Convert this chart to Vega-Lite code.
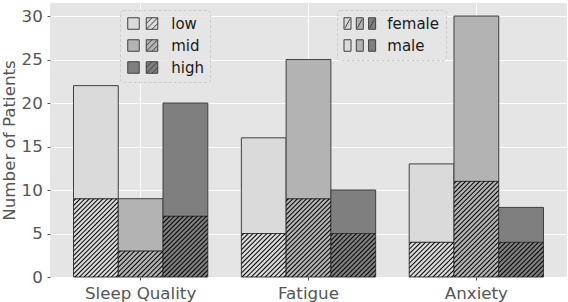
{
  "$schema": "https://vega.github.io/schema/vega-lite/v6.json",
  "width": 517,
  "height": 274,
  "autosize": {"type": "none"},
  "padding": {"left": 50, "top": 3, "right": 1, "bottom": 25},
  "background": "#ffffff",
  "view": {"fill": "#E5E5E5", "stroke": null},
  "config": {
    "font": "DejaVu Sans",
    "axis": {
      "domain": false,
      "labelFont": "DejaVu Sans",
      "titleFont": "DejaVu Sans",
      "labelFontSize": 16.7,
      "titleFontSize": 16.7,
      "titleFontWeight": "normal",
      "labelColor": "#555555",
      "titleColor": "#555555",
      "tickColor": "#555555",
      "tickSize": 3,
      "gridColor": "#ffffff",
      "gridWidth": 1
    },
    "legend": {
      "labelFont": "DejaVu Sans",
      "labelFontSize": 15,
      "labelColor": "#1a1a1a",
      "labelLimit": 0,
      "symbolSize": 132.25,
      "padding": 6,
      "rowPadding": 5,
      "fillColor": "rgba(229,229,229,0.8)",
      "strokeColor": "#cccccc",
      "strokeDash": [3, 2],
      "cornerRadius": 3,
      "symbolStrokeWidth": 1,
      "symbolStrokeColor": "#404040"
    }
  },
  "data": {
    "values": [
      {"category": "Sleep Quality", "level": "low", "sex": "female", "count": 9},
      {"category": "Sleep Quality", "level": "low", "sex": "male", "count": 13},
      {"category": "Sleep Quality", "level": "mid", "sex": "female", "count": 3},
      {"category": "Sleep Quality", "level": "mid", "sex": "male", "count": 6},
      {"category": "Sleep Quality", "level": "high", "sex": "female", "count": 7},
      {"category": "Sleep Quality", "level": "high", "sex": "male", "count": 13},
      {"category": "Fatigue", "level": "low", "sex": "female", "count": 5},
      {"category": "Fatigue", "level": "low", "sex": "male", "count": 11},
      {"category": "Fatigue", "level": "mid", "sex": "female", "count": 9},
      {"category": "Fatigue", "level": "mid", "sex": "male", "count": 16},
      {"category": "Fatigue", "level": "high", "sex": "female", "count": 5},
      {"category": "Fatigue", "level": "high", "sex": "male", "count": 5},
      {"category": "Anxiety", "level": "low", "sex": "female", "count": 4},
      {"category": "Anxiety", "level": "low", "sex": "male", "count": 9},
      {"category": "Anxiety", "level": "mid", "sex": "female", "count": 11},
      {"category": "Anxiety", "level": "mid", "sex": "male", "count": 19},
      {"category": "Anxiety", "level": "high", "sex": "female", "count": 4},
      {"category": "Anxiety", "level": "high", "sex": "male", "count": 4}
    ]
  },
  "encoding": {
    "x": {
      "field": "category", "type": "nominal",
      "scale": {"domain": ["Sleep Quality", "Fatigue", "Anxiety"], "paddingInner": 0.2, "paddingOuter": 0.14},
      "axis": {"title": null, "labelAngle": 0, "grid": true, "bandPosition": 0.5, "labelPadding": 5}
    },
    "xOffset": {
      "field": "level", "type": "nominal",
      "scale": {"domain": ["low", "mid", "high"], "paddingInner": 0, "paddingOuter": 0}
    },
    "y": {
      "field": "count", "type": "quantitative", "stack": "zero",
      "scale": {"domain": [0, 31.5], "nice": false},
      "axis": {"title": "Number of Patients", "values": [0, 5, 10, 15, 20, 25, 30], "grid": true, "labelPadding": 4.7, "titlePadding": 3}
    }
  },
  "layer": [
    {
      "mark": {"type": "bar", "stroke": "#404040", "strokeWidth": 1},
      "encoding": {
        "fill": {
          "field": "level", "type": "nominal",
          "scale": {"domain": ["low", "mid", "high"], "range": ["#DADADA", "#B3B3B3", "#7F7F7F"]},
          "legend": {
            "title": null, "orient": "none", "legendX": 70, "legendY": 7,
            "symbolType": "M-2.61,-1H-0.61V1H-2.61Z M0.61,-1H2.61V1H0.61Z M0.61,1L2.61,-1 M0.61,0L1.61,-1 M1.61,1L2.61,0",
            "symbolOffset": 9.25, "labelOffset": 21
          }
        },
        "opacity": {
          "field": "sex", "type": "ordinal",
          "scale": {"domain": ["female", "male"], "range": [1, 1]},
          "legend": {
            "title": null, "orient": "none", "legendX": 287, "legendY": 7,
            "symbolOffset": 9.3, "labelOffset": 20,
            "symbolType": {"expr": "datum.value === 'female' ? 'M-2.75,-1H-1.53V1H-2.75Z M-2.55,0.75L-1.73,-0.75 M-0.61,-1H0.61V1H-0.61Z M-0.41,0.75L0.41,-0.75 M1.53,-1H2.75V1H1.53Z M1.73,0.75L2.55,-0.75' : 'M-2.75,-1H-1.53V1H-2.75Z M-0.61,-1H0.61V1H-0.61Z M1.53,-1H2.75V1H1.53Z'"},
            "symbolFillColor": {"expr": "{gradient: 'linear', x1: 0, y1: 0, x2: 1, y2: 0, stops: [{offset: 0, color: '#DADADA'}, {offset: 0.3, color: '#DADADA'}, {offset: 0.3, color: '#B3B3B3'}, {offset: 0.7, color: '#B3B3B3'}, {offset: 0.7, color: '#7F7F7F'}, {offset: 1, color: '#7F7F7F'}]}"},
            "symbolStrokeColor": "#404040",
            "symbolOpacity": 1
          }
        },
        "order": {"field": "sex", "sort": "ascending"}
      }
    },
    {
      "transform": [{"filter": "datum.sex === 'female' && datum.count === 3"}],
      "mark": {"type": "bar", "strokeWidth": 0, "fill": {"gradient": "linear", "x1": 0, "y1": 0, "x2": 1.1814, "y2": 0.6888, "stops": [
        {"offset":0.0135,"color":"rgba(0,0,0,0)"},{"offset":0.0333,"color":"#000"},{"offset":0.0531,"color":"rgba(0,0,0,0)"},
        {"offset":0.0802,"color":"rgba(0,0,0,0)"},{"offset":0.1,"color":"#000"},{"offset":0.1198,"color":"rgba(0,0,0,0)"},
        {"offset":0.1469,"color":"rgba(0,0,0,0)"},{"offset":0.1667,"color":"#000"},{"offset":0.1865,"color":"rgba(0,0,0,0)"},
        {"offset":0.2135,"color":"rgba(0,0,0,0)"},{"offset":0.2333,"color":"#000"},{"offset":0.2531,"color":"rgba(0,0,0,0)"},
        {"offset":0.2802,"color":"rgba(0,0,0,0)"},{"offset":0.3,"color":"#000"},{"offset":0.3198,"color":"rgba(0,0,0,0)"},
        {"offset":0.3469,"color":"rgba(0,0,0,0)"},{"offset":0.3667,"color":"#000"},{"offset":0.3865,"color":"rgba(0,0,0,0)"},
        {"offset":0.4135,"color":"rgba(0,0,0,0)"},{"offset":0.4333,"color":"#000"},{"offset":0.4531,"color":"rgba(0,0,0,0)"},
        {"offset":0.4802,"color":"rgba(0,0,0,0)"},{"offset":0.5,"color":"#000"},{"offset":0.5198,"color":"rgba(0,0,0,0)"},
        {"offset":0.5469,"color":"rgba(0,0,0,0)"},{"offset":0.5667,"color":"#000"},{"offset":0.5865,"color":"rgba(0,0,0,0)"},
        {"offset":0.6135,"color":"rgba(0,0,0,0)"},{"offset":0.6333,"color":"#000"},{"offset":0.6531,"color":"rgba(0,0,0,0)"},
        {"offset":0.6802,"color":"rgba(0,0,0,0)"},{"offset":0.7,"color":"#000"},{"offset":0.7198,"color":"rgba(0,0,0,0)"},
        {"offset":0.7469,"color":"rgba(0,0,0,0)"},{"offset":0.7667,"color":"#000"},{"offset":0.7865,"color":"rgba(0,0,0,0)"},
        {"offset":0.8135,"color":"rgba(0,0,0,0)"},{"offset":0.8333,"color":"#000"},{"offset":0.8531,"color":"rgba(0,0,0,0)"},
        {"offset":0.8802,"color":"rgba(0,0,0,0)"},{"offset":0.9,"color":"#000"},{"offset":0.9198,"color":"rgba(0,0,0,0)"},
        {"offset":0.9469,"color":"rgba(0,0,0,0)"},{"offset":0.9667,"color":"#000"},{"offset":0.9865,"color":"rgba(0,0,0,0)"}
      ]}}
    },
    {
      "transform": [{"filter": "datum.sex === 'female' && datum.count === 4"}],
      "mark": {"type": "bar", "strokeWidth": 0, "fill": {"gradient": "linear", "x1": 0, "y1": 0, "x2": 1.1079, "y2": 0.8612, "stops": [
        {"offset":0.0118,"color":"rgba(0,0,0,0)"},{"offset":0.0294,"color":"#000"},{"offset":0.0470,"color":"rgba(0,0,0,0)"},
        {"offset":0.0706,"color":"rgba(0,0,0,0)"},{"offset":0.0882,"color":"#000"},{"offset":0.1058,"color":"rgba(0,0,0,0)"},
        {"offset":0.1295,"color":"rgba(0,0,0,0)"},{"offset":0.1471,"color":"#000"},{"offset":0.1647,"color":"rgba(0,0,0,0)"},
        {"offset":0.1883,"color":"rgba(0,0,0,0)"},{"offset":0.2059,"color":"#000"},{"offset":0.2235,"color":"rgba(0,0,0,0)"},
        {"offset":0.2471,"color":"rgba(0,0,0,0)"},{"offset":0.2647,"color":"#000"},{"offset":0.2823,"color":"rgba(0,0,0,0)"},
        {"offset":0.3059,"color":"rgba(0,0,0,0)"},{"offset":0.3235,"color":"#000"},{"offset":0.3411,"color":"rgba(0,0,0,0)"},
        {"offset":0.3648,"color":"rgba(0,0,0,0)"},{"offset":0.3824,"color":"#000"},{"offset":0.4000,"color":"rgba(0,0,0,0)"},
        {"offset":0.4236,"color":"rgba(0,0,0,0)"},{"offset":0.4412,"color":"#000"},{"offset":0.4588,"color":"rgba(0,0,0,0)"},
        {"offset":0.4824,"color":"rgba(0,0,0,0)"},{"offset":0.5,"color":"#000"},{"offset":0.5176,"color":"rgba(0,0,0,0)"},
        {"offset":0.5412,"color":"rgba(0,0,0,0)"},{"offset":0.5588,"color":"#000"},{"offset":0.5764,"color":"rgba(0,0,0,0)"},
        {"offset":0.6000,"color":"rgba(0,0,0,0)"},{"offset":0.6176,"color":"#000"},{"offset":0.6352,"color":"rgba(0,0,0,0)"},
        {"offset":0.6589,"color":"rgba(0,0,0,0)"},{"offset":0.6765,"color":"#000"},{"offset":0.6941,"color":"rgba(0,0,0,0)"},
        {"offset":0.7177,"color":"rgba(0,0,0,0)"},{"offset":0.7353,"color":"#000"},{"offset":0.7529,"color":"rgba(0,0,0,0)"},
        {"offset":0.7765,"color":"rgba(0,0,0,0)"},{"offset":0.7941,"color":"#000"},{"offset":0.8117,"color":"rgba(0,0,0,0)"},
        {"offset":0.8353,"color":"rgba(0,0,0,0)"},{"offset":0.8529,"color":"#000"},{"offset":0.8705,"color":"rgba(0,0,0,0)"},
        {"offset":0.8942,"color":"rgba(0,0,0,0)"},{"offset":0.9118,"color":"#000"},{"offset":0.9294,"color":"rgba(0,0,0,0)"},
        {"offset":0.9530,"color":"rgba(0,0,0,0)"},{"offset":0.9706,"color":"#000"},{"offset":0.9882,"color":"rgba(0,0,0,0)"}
      ]}}
    },
    {
      "transform": [{"filter": "datum.sex === 'female' && datum.count === 5"}],
      "mark": {"type": "bar", "strokeWidth": 0, "fill": {"gradient": "linear", "x1": 0, "y1": 0, "x2": 1.0141, "y2": 0.9854, "stops": [
        {"offset":0.0104,"color":"rgba(0,0,0,0)"},{"offset":0.0263,"color":"#000"},{"offset":0.0422,"color":"rgba(0,0,0,0)"},
        {"offset":0.0630,"color":"rgba(0,0,0,0)"},{"offset":0.0789,"color":"#000"},{"offset":0.0948,"color":"rgba(0,0,0,0)"},
        {"offset":0.1157,"color":"rgba(0,0,0,0)"},{"offset":0.1316,"color":"#000"},{"offset":0.1475,"color":"rgba(0,0,0,0)"},
        {"offset":0.1683,"color":"rgba(0,0,0,0)"},{"offset":0.1842,"color":"#000"},{"offset":0.2001,"color":"rgba(0,0,0,0)"},
        {"offset":0.2209,"color":"rgba(0,0,0,0)"},{"offset":0.2368,"color":"#000"},{"offset":0.2527,"color":"rgba(0,0,0,0)"},
        {"offset":0.2736,"color":"rgba(0,0,0,0)"},{"offset":0.2895,"color":"#000"},{"offset":0.3054,"color":"rgba(0,0,0,0)"},
        {"offset":0.3262,"color":"rgba(0,0,0,0)"},{"offset":0.3421,"color":"#000"},{"offset":0.3580,"color":"rgba(0,0,0,0)"},
        {"offset":0.3788,"color":"rgba(0,0,0,0)"},{"offset":0.3947,"color":"#000"},{"offset":0.4106,"color":"rgba(0,0,0,0)"},
        {"offset":0.4315,"color":"rgba(0,0,0,0)"},{"offset":0.4474,"color":"#000"},{"offset":0.4633,"color":"rgba(0,0,0,0)"},
        {"offset":0.4841,"color":"rgba(0,0,0,0)"},{"offset":0.5,"color":"#000"},{"offset":0.5159,"color":"rgba(0,0,0,0)"},
        {"offset":0.5367,"color":"rgba(0,0,0,0)"},{"offset":0.5526,"color":"#000"},{"offset":0.5685,"color":"rgba(0,0,0,0)"},
        {"offset":0.5894,"color":"rgba(0,0,0,0)"},{"offset":0.6053,"color":"#000"},{"offset":0.6212,"color":"rgba(0,0,0,0)"},
        {"offset":0.6420,"color":"rgba(0,0,0,0)"},{"offset":0.6579,"color":"#000"},{"offset":0.6738,"color":"rgba(0,0,0,0)"},
        {"offset":0.6946,"color":"rgba(0,0,0,0)"},{"offset":0.7105,"color":"#000"},{"offset":0.7264,"color":"rgba(0,0,0,0)"},
        {"offset":0.7473,"color":"rgba(0,0,0,0)"},{"offset":0.7632,"color":"#000"},{"offset":0.7791,"color":"rgba(0,0,0,0)"},
        {"offset":0.7999,"color":"rgba(0,0,0,0)"},{"offset":0.8158,"color":"#000"},{"offset":0.8317,"color":"rgba(0,0,0,0)"},
        {"offset":0.8525,"color":"rgba(0,0,0,0)"},{"offset":0.8684,"color":"#000"},{"offset":0.8843,"color":"rgba(0,0,0,0)"},
        {"offset":0.9052,"color":"rgba(0,0,0,0)"},{"offset":0.9211,"color":"#000"},{"offset":0.9370,"color":"rgba(0,0,0,0)"},
        {"offset":0.9578,"color":"rgba(0,0,0,0)"},{"offset":0.9737,"color":"#000"},{"offset":0.9896,"color":"rgba(0,0,0,0)"}
      ]}}
    },
    {
      "transform": [{"filter": "datum.sex === 'female' && datum.count === 7"}],
      "mark": {"type": "bar", "strokeWidth": 0, "fill": {"gradient": "linear", "x1": 0, "y1": 0, "x2": 0.8280, "y2": 1.1264, "stops": [
        {"offset":0.0084,"color":"rgba(0,0,0,0)"},{"offset":0.0217,"color":"#000"},{"offset":0.0350,"color":"rgba(0,0,0,0)"},
        {"offset":0.0519,"color":"rgba(0,0,0,0)"},{"offset":0.0652,"color":"#000"},{"offset":0.0785,"color":"rgba(0,0,0,0)"},
        {"offset":0.0954,"color":"rgba(0,0,0,0)"},{"offset":0.1087,"color":"#000"},{"offset":0.1220,"color":"rgba(0,0,0,0)"},
        {"offset":0.1389,"color":"rgba(0,0,0,0)"},{"offset":0.1522,"color":"#000"},{"offset":0.1655,"color":"rgba(0,0,0,0)"},
        {"offset":0.1824,"color":"rgba(0,0,0,0)"},{"offset":0.1957,"color":"#000"},{"offset":0.2090,"color":"rgba(0,0,0,0)"},
        {"offset":0.2258,"color":"rgba(0,0,0,0)"},{"offset":0.2391,"color":"#000"},{"offset":0.2524,"color":"rgba(0,0,0,0)"},
        {"offset":0.2693,"color":"rgba(0,0,0,0)"},{"offset":0.2826,"color":"#000"},{"offset":0.2959,"color":"rgba(0,0,0,0)"},
        {"offset":0.3128,"color":"rgba(0,0,0,0)"},{"offset":0.3261,"color":"#000"},{"offset":0.3394,"color":"rgba(0,0,0,0)"},
        {"offset":0.3563,"color":"rgba(0,0,0,0)"},{"offset":0.3696,"color":"#000"},{"offset":0.3829,"color":"rgba(0,0,0,0)"},
        {"offset":0.3997,"color":"rgba(0,0,0,0)"},{"offset":0.4130,"color":"#000"},{"offset":0.4263,"color":"rgba(0,0,0,0)"},
        {"offset":0.4432,"color":"rgba(0,0,0,0)"},{"offset":0.4565,"color":"#000"},{"offset":0.4698,"color":"rgba(0,0,0,0)"},
        {"offset":0.4867,"color":"rgba(0,0,0,0)"},{"offset":0.5,"color":"#000"},{"offset":0.5133,"color":"rgba(0,0,0,0)"},
        {"offset":0.5302,"color":"rgba(0,0,0,0)"},{"offset":0.5435,"color":"#000"},{"offset":0.5568,"color":"rgba(0,0,0,0)"},
        {"offset":0.5737,"color":"rgba(0,0,0,0)"},{"offset":0.5870,"color":"#000"},{"offset":0.6003,"color":"rgba(0,0,0,0)"},
        {"offset":0.6171,"color":"rgba(0,0,0,0)"},{"offset":0.6304,"color":"#000"},{"offset":0.6437,"color":"rgba(0,0,0,0)"},
        {"offset":0.6606,"color":"rgba(0,0,0,0)"},{"offset":0.6739,"color":"#000"},{"offset":0.6872,"color":"rgba(0,0,0,0)"},
        {"offset":0.7041,"color":"rgba(0,0,0,0)"},{"offset":0.7174,"color":"#000"},{"offset":0.7307,"color":"rgba(0,0,0,0)"},
        {"offset":0.7476,"color":"rgba(0,0,0,0)"},{"offset":0.7609,"color":"#000"},{"offset":0.7742,"color":"rgba(0,0,0,0)"},
        {"offset":0.7910,"color":"rgba(0,0,0,0)"},{"offset":0.8043,"color":"#000"},{"offset":0.8176,"color":"rgba(0,0,0,0)"},
        {"offset":0.8345,"color":"rgba(0,0,0,0)"},{"offset":0.8478,"color":"#000"},{"offset":0.8611,"color":"rgba(0,0,0,0)"},
        {"offset":0.8780,"color":"rgba(0,0,0,0)"},{"offset":0.8913,"color":"#000"},{"offset":0.9046,"color":"rgba(0,0,0,0)"},
        {"offset":0.9215,"color":"rgba(0,0,0,0)"},{"offset":0.9348,"color":"#000"},{"offset":0.9481,"color":"rgba(0,0,0,0)"},
        {"offset":0.9650,"color":"rgba(0,0,0,0)"},{"offset":0.9783,"color":"#000"},{"offset":0.9916,"color":"rgba(0,0,0,0)"}
      ]}}
    },
    {
      "transform": [{"filter": "datum.sex === 'female' && datum.count === 9"}],
      "mark": {"type": "bar", "strokeWidth": 0, "fill": {"gradient": "linear", "x1": 0, "y1": 0, "x2": 0.6773, "y2": 1.1845, "stops": [
        {"offset":0.0071,"color":"rgba(0,0,0,0)"},{"offset":0.0185,"color":"#000"},{"offset":0.0299,"color":"rgba(0,0,0,0)"},
        {"offset":0.0442,"color":"rgba(0,0,0,0)"},{"offset":0.0556,"color":"#000"},{"offset":0.0670,"color":"rgba(0,0,0,0)"},
        {"offset":0.0812,"color":"rgba(0,0,0,0)"},{"offset":0.0926,"color":"#000"},{"offset":0.1040,"color":"rgba(0,0,0,0)"},
        {"offset":0.1182,"color":"rgba(0,0,0,0)"},{"offset":0.1296,"color":"#000"},{"offset":0.1410,"color":"rgba(0,0,0,0)"},
        {"offset":0.1553,"color":"rgba(0,0,0,0)"},{"offset":0.1667,"color":"#000"},{"offset":0.1781,"color":"rgba(0,0,0,0)"},
        {"offset":0.1923,"color":"rgba(0,0,0,0)"},{"offset":0.2037,"color":"#000"},{"offset":0.2151,"color":"rgba(0,0,0,0)"},
        {"offset":0.2293,"color":"rgba(0,0,0,0)"},{"offset":0.2407,"color":"#000"},{"offset":0.2521,"color":"rgba(0,0,0,0)"},
        {"offset":0.2664,"color":"rgba(0,0,0,0)"},{"offset":0.2778,"color":"#000"},{"offset":0.2892,"color":"rgba(0,0,0,0)"},
        {"offset":0.3034,"color":"rgba(0,0,0,0)"},{"offset":0.3148,"color":"#000"},{"offset":0.3262,"color":"rgba(0,0,0,0)"},
        {"offset":0.3405,"color":"rgba(0,0,0,0)"},{"offset":0.3519,"color":"#000"},{"offset":0.3633,"color":"rgba(0,0,0,0)"},
        {"offset":0.3775,"color":"rgba(0,0,0,0)"},{"offset":0.3889,"color":"#000"},{"offset":0.4003,"color":"rgba(0,0,0,0)"},
        {"offset":0.4145,"color":"rgba(0,0,0,0)"},{"offset":0.4259,"color":"#000"},{"offset":0.4373,"color":"rgba(0,0,0,0)"},
        {"offset":0.4516,"color":"rgba(0,0,0,0)"},{"offset":0.4630,"color":"#000"},{"offset":0.4744,"color":"rgba(0,0,0,0)"},
        {"offset":0.4886,"color":"rgba(0,0,0,0)"},{"offset":0.5,"color":"#000"},{"offset":0.5114,"color":"rgba(0,0,0,0)"},
        {"offset":0.5256,"color":"rgba(0,0,0,0)"},{"offset":0.5370,"color":"#000"},{"offset":0.5484,"color":"rgba(0,0,0,0)"},
        {"offset":0.5627,"color":"rgba(0,0,0,0)"},{"offset":0.5741,"color":"#000"},{"offset":0.5855,"color":"rgba(0,0,0,0)"},
        {"offset":0.5997,"color":"rgba(0,0,0,0)"},{"offset":0.6111,"color":"#000"},{"offset":0.6225,"color":"rgba(0,0,0,0)"},
        {"offset":0.6367,"color":"rgba(0,0,0,0)"},{"offset":0.6481,"color":"#000"},{"offset":0.6595,"color":"rgba(0,0,0,0)"},
        {"offset":0.6738,"color":"rgba(0,0,0,0)"},{"offset":0.6852,"color":"#000"},{"offset":0.6966,"color":"rgba(0,0,0,0)"},
        {"offset":0.7108,"color":"rgba(0,0,0,0)"},{"offset":0.7222,"color":"#000"},{"offset":0.7336,"color":"rgba(0,0,0,0)"},
        {"offset":0.7479,"color":"rgba(0,0,0,0)"},{"offset":0.7593,"color":"#000"},{"offset":0.7707,"color":"rgba(0,0,0,0)"},
        {"offset":0.7849,"color":"rgba(0,0,0,0)"},{"offset":0.7963,"color":"#000"},{"offset":0.8077,"color":"rgba(0,0,0,0)"},
        {"offset":0.8219,"color":"rgba(0,0,0,0)"},{"offset":0.8333,"color":"#000"},{"offset":0.8447,"color":"rgba(0,0,0,0)"},
        {"offset":0.8590,"color":"rgba(0,0,0,0)"},{"offset":0.8704,"color":"#000"},{"offset":0.8818,"color":"rgba(0,0,0,0)"},
        {"offset":0.8960,"color":"rgba(0,0,0,0)"},{"offset":0.9074,"color":"#000"},{"offset":0.9188,"color":"rgba(0,0,0,0)"},
        {"offset":0.9330,"color":"rgba(0,0,0,0)"},{"offset":0.9444,"color":"#000"},{"offset":0.9558,"color":"rgba(0,0,0,0)"},
        {"offset":0.9701,"color":"rgba(0,0,0,0)"},{"offset":0.9815,"color":"#000"},{"offset":0.9929,"color":"rgba(0,0,0,0)"}
      ]}}
    },
    {
      "transform": [{"filter": "datum.sex === 'female' && datum.count === 11"}],
      "mark": {"type": "bar", "strokeWidth": 0, "fill": {"gradient": "linear", "x1": 0, "y1": 0, "x2": 0.5634, "y2": 1.2043, "stops": [
        {"offset":0.0067,"color":"rgba(0,0,0,0)"},{"offset":0.0167,"color":"#000"},{"offset":0.0267,"color":"rgba(0,0,0,0)"},
        {"offset":0.0400,"color":"rgba(0,0,0,0)"},{"offset":0.05,"color":"#000"},{"offset":0.0600,"color":"rgba(0,0,0,0)"},
        {"offset":0.0733,"color":"rgba(0,0,0,0)"},{"offset":0.0833,"color":"#000"},{"offset":0.0933,"color":"rgba(0,0,0,0)"},
        {"offset":0.1067,"color":"rgba(0,0,0,0)"},{"offset":0.1167,"color":"#000"},{"offset":0.1267,"color":"rgba(0,0,0,0)"},
        {"offset":0.1400,"color":"rgba(0,0,0,0)"},{"offset":0.15,"color":"#000"},{"offset":0.1600,"color":"rgba(0,0,0,0)"},
        {"offset":0.1733,"color":"rgba(0,0,0,0)"},{"offset":0.1833,"color":"#000"},{"offset":0.1933,"color":"rgba(0,0,0,0)"},
        {"offset":0.2067,"color":"rgba(0,0,0,0)"},{"offset":0.2167,"color":"#000"},{"offset":0.2267,"color":"rgba(0,0,0,0)"},
        {"offset":0.2400,"color":"rgba(0,0,0,0)"},{"offset":0.25,"color":"#000"},{"offset":0.2600,"color":"rgba(0,0,0,0)"},
        {"offset":0.2733,"color":"rgba(0,0,0,0)"},{"offset":0.2833,"color":"#000"},{"offset":0.2933,"color":"rgba(0,0,0,0)"},
        {"offset":0.3067,"color":"rgba(0,0,0,0)"},{"offset":0.3167,"color":"#000"},{"offset":0.3267,"color":"rgba(0,0,0,0)"},
        {"offset":0.3400,"color":"rgba(0,0,0,0)"},{"offset":0.35,"color":"#000"},{"offset":0.3600,"color":"rgba(0,0,0,0)"},
        {"offset":0.3733,"color":"rgba(0,0,0,0)"},{"offset":0.3833,"color":"#000"},{"offset":0.3933,"color":"rgba(0,0,0,0)"},
        {"offset":0.4067,"color":"rgba(0,0,0,0)"},{"offset":0.4167,"color":"#000"},{"offset":0.4267,"color":"rgba(0,0,0,0)"},
        {"offset":0.4400,"color":"rgba(0,0,0,0)"},{"offset":0.45,"color":"#000"},{"offset":0.4600,"color":"rgba(0,0,0,0)"},
        {"offset":0.4733,"color":"rgba(0,0,0,0)"},{"offset":0.4833,"color":"#000"},{"offset":0.4933,"color":"rgba(0,0,0,0)"},
        {"offset":0.5067,"color":"rgba(0,0,0,0)"},{"offset":0.5167,"color":"#000"},{"offset":0.5267,"color":"rgba(0,0,0,0)"},
        {"offset":0.5400,"color":"rgba(0,0,0,0)"},{"offset":0.55,"color":"#000"},{"offset":0.5600,"color":"rgba(0,0,0,0)"},
        {"offset":0.5733,"color":"rgba(0,0,0,0)"},{"offset":0.5833,"color":"#000"},{"offset":0.5933,"color":"rgba(0,0,0,0)"},
        {"offset":0.6067,"color":"rgba(0,0,0,0)"},{"offset":0.6167,"color":"#000"},{"offset":0.6267,"color":"rgba(0,0,0,0)"},
        {"offset":0.6400,"color":"rgba(0,0,0,0)"},{"offset":0.65,"color":"#000"},{"offset":0.6600,"color":"rgba(0,0,0,0)"},
        {"offset":0.6733,"color":"rgba(0,0,0,0)"},{"offset":0.6833,"color":"#000"},{"offset":0.6933,"color":"rgba(0,0,0,0)"},
        {"offset":0.7067,"color":"rgba(0,0,0,0)"},{"offset":0.7167,"color":"#000"},{"offset":0.7267,"color":"rgba(0,0,0,0)"},
        {"offset":0.7400,"color":"rgba(0,0,0,0)"},{"offset":0.75,"color":"#000"},{"offset":0.7600,"color":"rgba(0,0,0,0)"},
        {"offset":0.7733,"color":"rgba(0,0,0,0)"},{"offset":0.7833,"color":"#000"},{"offset":0.7933,"color":"rgba(0,0,0,0)"},
        {"offset":0.8067,"color":"rgba(0,0,0,0)"},{"offset":0.8167,"color":"#000"},{"offset":0.8267,"color":"rgba(0,0,0,0)"},
        {"offset":0.8400,"color":"rgba(0,0,0,0)"},{"offset":0.85,"color":"#000"},{"offset":0.8600,"color":"rgba(0,0,0,0)"},
        {"offset":0.8733,"color":"rgba(0,0,0,0)"},{"offset":0.8833,"color":"#000"},{"offset":0.8933,"color":"rgba(0,0,0,0)"},
        {"offset":0.9067,"color":"rgba(0,0,0,0)"},{"offset":0.9167,"color":"#000"},{"offset":0.9267,"color":"rgba(0,0,0,0)"},
        {"offset":0.9400,"color":"rgba(0,0,0,0)"},{"offset":0.95,"color":"#000"},{"offset":0.9600,"color":"rgba(0,0,0,0)"},
        {"offset":0.9733,"color":"rgba(0,0,0,0)"},{"offset":0.9833,"color":"#000"},{"offset":0.9933,"color":"rgba(0,0,0,0)"}
      ]}}
    }
  ]
}
